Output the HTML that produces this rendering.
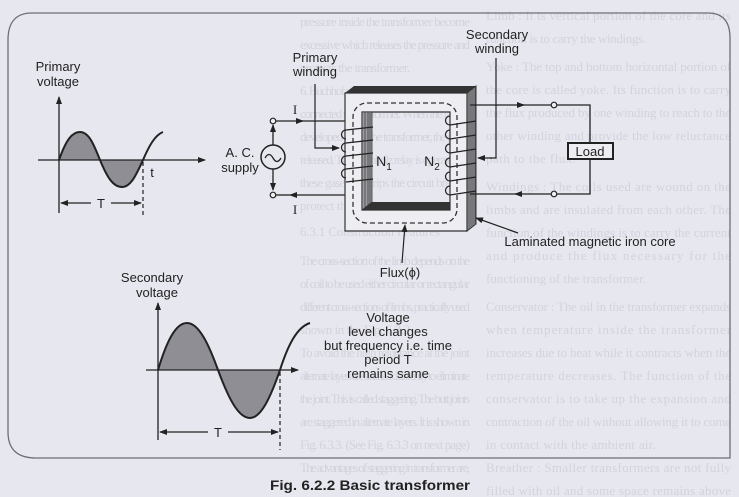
<!DOCTYPE html>
<html><head><meta charset="utf-8"><style>
html,body{margin:0;padding:0;background:#e7e7ef;}
svg{display:block}
</style></head><body>
<svg width="739" height="497" viewBox="0 0 739 497" xmlns="http://www.w3.org/2000/svg">
<defs>
<marker id="ah" markerWidth="8" markerHeight="6" refX="7" refY="3" orient="auto" markerUnits="userSpaceOnUse">
<path d="M0,0 L8,3 L0,6 z" fill="#222"/></marker>
</defs>
<rect width="739" height="497" fill="#e7e7ef"/>
<!-- faint background text -->
<g font-family="Liberation Serif, serif" font-size="13" fill="#d3d3dd" lengthAdjust="spacingAndGlyphs">
<text x="300" y="26" textLength="170">pressure inside the transformer become</text>
<text x="300" y="49" textLength="170">excessive which releases the pressure and</text>
<text x="300" y="72" textLength="110">protects the transformer.</text>
<text x="300" y="95" textLength="170">6. Buchholz relay : It is a safety gas operated</text>
<text x="300" y="118" textLength="170">connected to transformer. When the fault is</text>
<text x="300" y="141" textLength="170">developed inside the transformer, the gases</text>
<text x="300" y="164" textLength="170">released. The Buchholz relay is operated by</text>
<text x="300" y="187" textLength="170">these gases and trips the circuit breaker</text>
<text x="300" y="210" textLength="90">protect the device.</text>
<text x="300" y="236" textLength="140">6.3.1 Construction Features</text>
<text x="300" y="265" textLength="170">The cross-section of the limb depends on the</text>
<text x="300" y="288" textLength="170">of coil to be used either circular or rectangular</text>
<text x="300" y="311" textLength="170">different cross-sections of limbs, practically used</text>
<text x="300" y="334" textLength="110">shown in the Fig. 6.3.2</text>
<text x="300" y="357" textLength="170">To avoid the high reluctance at the joint</text>
<text x="300" y="380" textLength="170">alternate layers are stacked differently to eliminate</text>
<text x="300" y="403" textLength="170">the joint. This is called staggering. The butt joints</text>
<text x="300" y="426" textLength="170">are staggered in alternate layers. It is shown in</text>
<text x="300" y="449" textLength="170">Fig. 6.3.3. (See Fig. 6.3.3 on next page)</text>
<text x="300" y="472" textLength="170">The advantages of staggering in transformer are,</text>
<text x="486" y="20" textLength="245">Limb : It is vertical portion of the core and its</text>
<text x="486" y="43" textLength="160">function is to carry the windings.</text>
<text x="486" y="71" textLength="245">Yoke : The top and bottom horizontal portion of</text>
<text x="486" y="94" textLength="245">the core is called yoke. Its function is to carry</text>
<text x="486" y="117" textLength="245">the flux produced by one winding to reach to the</text>
<text x="486" y="140" textLength="245">other winding and provide the low reluctance</text>
<text x="486" y="163" textLength="90">path to the flux.</text>
<text x="486" y="191" textLength="245">Windings : The coils used are wound on the</text>
<text x="486" y="214" textLength="245">limbs and are insulated from each other. The</text>
<text x="486" y="237" textLength="245">function of the windings is to carry the current</text>
<text x="486" y="260" textLength="245">and produce the flux necessary for the</text>
<text x="486" y="283" textLength="160">functioning of the transformer.</text>
<text x="486" y="311" textLength="245">Conservator : The oil in the transformer expands</text>
<text x="486" y="334" textLength="245">when temperature inside the transformer</text>
<text x="486" y="357" textLength="245">increases due to heat while it contracts when the</text>
<text x="486" y="380" textLength="245">temperature decreases. The function of the</text>
<text x="486" y="403" textLength="245">conservator is to take up the expansion and</text>
<text x="486" y="426" textLength="245">contraction of the oil without allowing it to come</text>
<text x="486" y="449" textLength="170">in contact with the ambient air.</text>
<text x="486" y="472" textLength="245">Breather : Smaller transformers are not fully</text>
<text x="486" y="495" textLength="245">filled with oil and some space remains above</text>
</g>
<!-- frame -->
<path d="M32,13 L708,13 Q730,13 730,38 L730,458 L36,458 Q8,458 8,432 L8,40 Q8,13 32,13 Z" fill="none" stroke="#6e6e76" stroke-width="1.3"/>

<g font-family="Liberation Sans, sans-serif" font-size="13" fill="#222" text-anchor="middle">
<text x="58" y="71">Primary</text><text x="58" y="86">voltage</text>
<path d="M59,160 C66,140 72,132 80,132 C89,132 94,145 100,160 Z" fill="#8e8e94"/>
<path d="M100,160 C107,177 113,187 122,187 C131,187 136,175 143,160 Z" fill="#8e8e94"/>
<path d="M59,160 C66,140 72,132 80,132 C89,132 94,145 100,160 C107,177 113,187 122,187 C131,187 136,175 143,160 C149,146 155,135 163,132" fill="none" stroke="#222" stroke-width="2"/>
<line x1="59" y1="213" x2="59" y2="97" stroke="#222" stroke-width="1.3" marker-end="url(#ah)"/>
<line x1="38" y1="160" x2="205" y2="160" stroke="#222" stroke-width="1.3" marker-end="url(#ah)"/>
<line x1="143" y1="162" x2="143" y2="216" stroke="#222" stroke-width="1.2" stroke-dasharray="4,3"/>
<text x="152" y="177">t</text>
<line x1="91" y1="203" x2="61" y2="203" stroke="#222" stroke-width="1.2" marker-end="url(#ah)"/>
<line x1="111" y1="203" x2="141" y2="203" stroke="#222" stroke-width="1.2" marker-end="url(#ah)"/>
<text x="101" y="208">T</text>

<text x="240" y="157">A. C.</text><text x="240" y="172">supply</text>
<circle cx="273" cy="157" r="12" fill="none" stroke="#222" stroke-width="1.5"/>
<path d="M265,158 q4,-7 8,0 q4,7 8,0" fill="none" stroke="#222" stroke-width="1.3"/>
<line x1="273" y1="145" x2="273" y2="125" stroke="#222" stroke-width="1.3" marker-end="url(#ah)"/>
<line x1="273" y1="169" x2="273" y2="190" stroke="#222" stroke-width="1.3" marker-end="url(#ah)"/>
<circle cx="273" cy="121" r="2.8" fill="#eee" stroke="#222" stroke-width="1.2"/>
<circle cx="273" cy="195" r="2.8" fill="#eee" stroke="#222" stroke-width="1.2"/>
<line x1="276" y1="121" x2="303" y2="121" stroke="#222" stroke-width="1.3" marker-end="url(#ah)"/>
<line x1="300" y1="121" x2="346" y2="121" stroke="#222" stroke-width="1.3"/>
<line x1="346" y1="195" x2="290" y2="195" stroke="#222" stroke-width="1.3" marker-end="url(#ah)"/>
<line x1="290" y1="195" x2="276" y2="195" stroke="#222" stroke-width="1.3"/>
<text x="295" y="114" font-family="Liberation Serif, serif">I</text>
<text x="295" y="214" font-family="Liberation Serif, serif">I</text>
<text x="315" y="62">Primary</text><text x="315" y="76">winding</text>
<polyline points="315,84 315,148 336,148" fill="none" stroke="#222" stroke-width="1.2"/>
<line x1="330" y1="148" x2="339" y2="148" stroke="#222" stroke-width="1.2" marker-end="url(#ah)"/>

<polygon points="345,93 354,86 476,86 467,93" fill="#333"/>
<polygon points="467,93 476,86 476,224 467,231" fill="#9a9aa0" stroke="#333" stroke-width="1"/>
<g stroke="#444" stroke-width="0.8">
<line x1="469" y1="92" x2="469" y2="229"/><line x1="471" y1="90" x2="471" y2="228"/><line x1="473" y1="89" x2="473" y2="226"/><line x1="475" y1="87" x2="475" y2="225"/>
</g>
<path d="M345,93 H467 V231 H345 Z M362,112 V210 H450 V112 Z" fill="#eeeef2" fill-rule="evenodd" stroke="#333" stroke-width="1.2"/>
<polygon points="362,112 372,112 372,202 362,210" fill="#9a9aa0" stroke="#333" stroke-width="0.8"/>
<g stroke="#444" stroke-width="0.8"><line x1="365" y1="112" x2="365" y2="208"/><line x1="368" y1="112" x2="368" y2="206"/><line x1="370" y1="112" x2="370" y2="204"/></g>
<polygon points="372,202 450,202 450,210 362,210" fill="#333"/>
<rect x="353" y="103" width="104" height="120" rx="14" fill="none" stroke="#333" stroke-width="1.3" stroke-dasharray="5,3"/>
<g fill="none" stroke="#222" stroke-width="1.2">
<path d="M346,130 a4,4 0 0 0 0,9 M346,130 L373,127"/><path d="M346,143 a4,4 0 0 0 0,9 M346,143 L373,140"/>
<path d="M346,156 a4,4 0 0 0 0,9 M346,156 L373,153"/><path d="M346,169 a4,4 0 0 0 0,9 M346,169 L373,166"/>
<path d="M346,182 L373,179"/>
</g>
<text x="384" y="166" font-size="14">N<tspan font-size="10" dy="4">1</tspan></text>
<g fill="none" stroke="#222" stroke-width="1.2">
<path d="M450,116 a4,4 0 0 0 0,9 L476,121"/><path d="M450,130 a4,4 0 0 0 0,9 L476,135"/>
<path d="M450,144 a4,4 0 0 0 0,9 L476,149"/><path d="M450,158 a4,4 0 0 0 0,9 L476,163"/>
<path d="M450,172 a4,4 0 0 0 0,9 L476,177"/><path d="M450,186 a4,4 0 0 0 0,9 L476,191"/>
</g>
<text x="432" y="166" font-size="14">N<tspan font-size="10" dy="4">2</tspan></text>
<text x="497" y="39">Secondary</text><text x="497" y="53">winding</text>
<polyline points="496,58 496,158 490,158" fill="none" stroke="#222" stroke-width="1.2"/>
<line x1="492" y1="158" x2="478" y2="158" stroke="#222" stroke-width="1.2" marker-end="url(#ah)"/>
<line x1="470" y1="105" x2="524" y2="105" stroke="#222" stroke-width="1.3" marker-end="url(#ah)"/>
<line x1="520" y1="105" x2="551" y2="105" stroke="#222" stroke-width="1.3"/>
<polyline points="557,105 590,105 590,143" fill="none" stroke="#222" stroke-width="1.3"/>
<polyline points="590,159 590,194 557,194" fill="none" stroke="#222" stroke-width="1.3"/>
<line x1="551" y1="194" x2="515" y2="194" stroke="#222" stroke-width="1.3" marker-end="url(#ah)"/>
<line x1="518" y1="194" x2="470" y2="194" stroke="#222" stroke-width="1.3"/>
<circle cx="554" cy="105" r="2.8" fill="#eee" stroke="#222" stroke-width="1.2"/>
<circle cx="554" cy="194" r="2.8" fill="#eee" stroke="#222" stroke-width="1.2"/>
<rect x="568" y="143" width="45" height="16" fill="#eeeef2" stroke="#222" stroke-width="2"/>
<text x="590" y="156">Load</text>
<line x1="518" y1="233" x2="476" y2="218" stroke="#222" stroke-width="1.2" marker-end="url(#ah)"/>
<text x="590" y="246">Laminated magnetic iron core</text>
<line x1="402" y1="263" x2="405" y2="225" stroke="#222" stroke-width="1.2" marker-end="url(#ah)"/>
<text x="400" y="277">Flux(ϕ)</text>

<text x="152" y="282">Secondary</text><text x="157" y="297">voltage</text>
<path d="M158,370 C167,340 176,323 187,323 C199,323 209,345 218,370 Z" fill="#8e8e94"/>
<path d="M218,370 C228,397 238,418 250,418 C262,418 272,393 280,370 Z" fill="#8e8e94"/>
<path d="M158,370 C167,340 176,323 187,323 C199,323 209,345 218,370 C228,397 238,418 250,418 C262,418 272,393 280,370 C288,345 297,327 310,323" fill="none" stroke="#222" stroke-width="2"/>
<line x1="158" y1="440" x2="158" y2="303" stroke="#222" stroke-width="1.3" marker-end="url(#ah)"/>
<line x1="146" y1="370" x2="298" y2="370" stroke="#222" stroke-width="1.3" marker-end="url(#ah)"/>
<line x1="280" y1="372" x2="280" y2="450" stroke="#222" stroke-width="1.2" stroke-dasharray="4,3"/>
<line x1="208" y1="432" x2="160" y2="432" stroke="#222" stroke-width="1.2" marker-end="url(#ah)"/>
<line x1="228" y1="432" x2="278" y2="432" stroke="#222" stroke-width="1.2" marker-end="url(#ah)"/>
<text x="218" y="437">T</text>
<text x="388" y="322">Voltage</text>
<text x="388" y="336">level changes</text>
<text x="388" y="350">but frequency i.e. time</text>
<text x="388" y="364">period T</text>
<text x="388" y="378">remains same</text>
</g>
<text x="370" y="490" text-anchor="middle" font-family="Liberation Sans, sans-serif" font-size="14" font-weight="bold" fill="#222" textLength="200" lengthAdjust="spacingAndGlyphs">Fig. 6.2.2 Basic transformer</text>
</svg>
</body></html>
